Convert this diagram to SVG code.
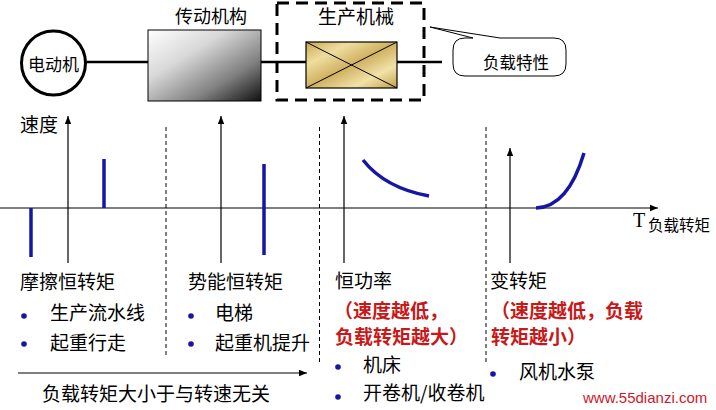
<svg xmlns="http://www.w3.org/2000/svg" width="716" height="410" viewBox="0 0 716 410">
<defs>
<style>
.t{font-family:"Noto Sans CJK SC","Liberation Sans",sans-serif;fill:#000}
.r{font-family:"Noto Sans CJK SC","Liberation Sans",sans-serif;fill:#c81818;font-weight:bold}
.ln{stroke:#000;stroke-width:2.5;fill:none}
.ax{stroke:#000;stroke-width:1.2;fill:none}
.dv{stroke:#000;stroke-width:1;stroke-dasharray:4 3;fill:none}
.bl{stroke:#1616a6;stroke-width:3.5;fill:none;stroke-linecap:butt}
.dot{fill:#1616a6}
</style>
<linearGradient id="gray" x1="0" y1="0" x2="1" y2="1">
<stop offset="0" stop-color="#ffffff"/>
<stop offset="0.35" stop-color="#d8d8d8"/>
<stop offset="0.7" stop-color="#808080"/>
<stop offset="1" stop-color="#101010"/>
</linearGradient>
<linearGradient id="gold" x1="0" y1="0" x2="1" y2="1">
<stop offset="0" stop-color="#c8a850"/>
<stop offset="0.25" stop-color="#efdda0"/>
<stop offset="0.5" stop-color="#cfb060"/>
<stop offset="0.75" stop-color="#f2e2a8"/>
<stop offset="1" stop-color="#c0a048"/>
</linearGradient>
<marker id="ah" viewBox="0 0 10 10" refX="10" refY="5" markerWidth="8" markerHeight="8" markerUnits="userSpaceOnUse" orient="auto">
<path d="M0,1 L10,5 L0,9 Z" fill="#000"/>
</marker>
</defs>

<g id="connectors">
<line class="ln" x1="85" y1="62" x2="148" y2="62"/>
<line class="ln" x1="261" y1="62" x2="306" y2="62"/>
<line class="ln" x1="397" y1="62" x2="442" y2="62"/>
</g>

<g id="motor">
<circle cx="53.5" cy="63" r="32" fill="#fff" stroke="#000" stroke-width="3"/>
<text class="t" x="53.5" y="71" font-size="17" text-anchor="middle">电动机</text>
</g>

<g id="transmission">
<text class="t" x="175" y="23" font-size="18">传动机构</text>
<rect x="148" y="30" width="113" height="71" fill="url(#gray)" stroke="#000" stroke-width="1"/>
</g>

<g id="machine">
<rect x="277" y="3" width="147" height="97" fill="none" stroke="#000" stroke-width="3" stroke-dasharray="12 7"/>
<text class="t" x="318" y="24" font-size="19">生产机械</text>
<rect x="306" y="42" width="91" height="46" fill="url(#gold)" stroke="#000" stroke-width="1.2"/>
<line x1="306" y1="42" x2="397" y2="88" stroke="#000" stroke-width="1"/>
<line x1="306" y1="88" x2="397" y2="42" stroke="#000" stroke-width="1"/>
</g>

<g id="callout">
<path d="M473,38 L430,27 L500,38 L554,38 Q566,38 566,50 L566,64 Q566,76 554,76 L465,76 Q453,76 453,64 L453,50 Q453,38 465,38 Z" fill="#fff" stroke="#000" stroke-width="1"/>
<text class="t" x="483" y="69" font-size="16.5">负载特性</text>
</g>

<g id="axes">
<line class="ax" x1="0" y1="208" x2="658" y2="208" marker-end="url(#ah)"/>
<line class="ax" x1="68" y1="263" x2="68" y2="116" marker-end="url(#ah)"/>
<line class="ax" x1="221" y1="263" x2="221" y2="116" marker-end="url(#ah)"/>
<line class="ax" x1="344" y1="263" x2="344" y2="116" marker-end="url(#ah)" stroke="#555"/>
<line class="ax" x1="510" y1="263" x2="510" y2="148" marker-end="url(#ah)"/>
<line class="dv" x1="166" y1="127" x2="166" y2="355"/>
<line class="dv" x1="319.5" y1="127" x2="319.5" y2="362"/>
<line class="dv" x1="486" y1="127" x2="486" y2="362"/>
<text class="t" x="20" y="132" font-size="19">速度</text>
<text x="633" y="227" font-family="Liberation Serif,serif" font-size="20">T</text>
<text class="t" x="648" y="231" font-size="15.5">负载转矩</text>
</g>

<g id="curves">
<line class="bl" x1="31" y1="208" x2="31" y2="257"/>
<line class="bl" x1="104" y1="159" x2="104" y2="208"/>
<line class="bl" x1="264" y1="164" x2="264" y2="255"/>
<path class="bl" d="M363,160 Q385,188 429,196"/>
<path class="bl" d="M536,208 Q568,207 584,153"/>
</g>

<g id="col1">
<text class="t" x="20" y="289" font-size="19">摩擦恒转矩</text>
<circle class="dot" cx="24" cy="316" r="2.8"/>
<text class="t" x="50" y="320" font-size="19">生产流水线</text>
<circle class="dot" cx="24" cy="344" r="2.8"/>
<text class="t" x="50" y="350" font-size="19">起重行走</text>
</g>

<g id="col2">
<text class="t" x="188" y="289" font-size="19">势能恒转矩</text>
<circle class="dot" cx="191" cy="316" r="2.8"/>
<text class="t" x="215" y="320" font-size="19">电梯</text>
<circle class="dot" cx="191" cy="344" r="2.8"/>
<text class="t" x="215" y="350" font-size="19">起重机提升</text>
</g>

<g id="note">
<line class="ax" x1="18" y1="373" x2="307" y2="373" marker-end="url(#ah)"/>
<text class="t" x="42" y="401" font-size="19">负载转矩大小于与转速无关</text>
</g>

<g id="col3">
<text class="t" x="335" y="288" font-size="19">恒功率</text>
<text class="r" x="334" y="318" font-size="19">（速度越低，</text>
<text class="r" x="335" y="344" font-size="19">负载转矩越大）</text>
<circle class="dot" cx="338" cy="367" r="2.8"/>
<text class="t" x="363" y="372" font-size="19">机床</text>
<circle class="dot" cx="338" cy="397" r="2.8"/>
<text class="t" x="363" y="400" font-size="19">开卷机/收卷机</text>
</g>

<g id="col4">
<text class="t" x="490" y="288" font-size="19">变转矩</text>
<text class="r" x="491" y="318" font-size="19">（速度越低，负载</text>
<text class="r" x="491" y="344" font-size="19">转矩越小）</text>
<circle class="dot" cx="493" cy="374" r="2.8"/>
<text class="t" x="519" y="379" font-size="19">风机水泵</text>
</g>

<text x="583" y="403" font-family="Liberation Sans,Arial,sans-serif" font-size="15" fill="#d01828">www.55dianzi.com</text>
</svg>
